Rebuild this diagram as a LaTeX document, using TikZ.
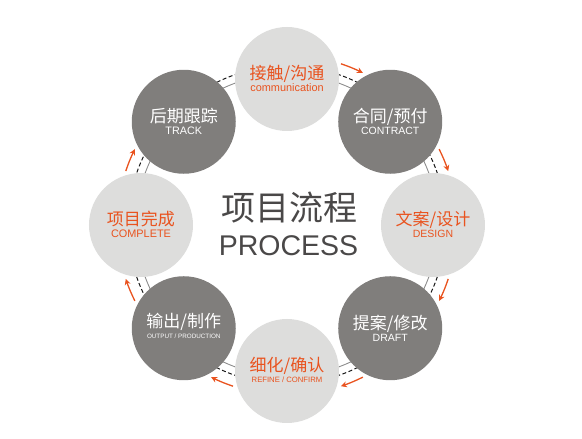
\documentclass[tikz,border=0pt]{standalone}
\usepackage{fontspec}
\setmainfont{Liberation Sans}
\newfontfamily\cjk{Noto Sans CJK SC}
\usetikzlibrary{arrows.meta}

\definecolor{procorange}{HTML}{E9531F}
\definecolor{procdark}{HTML}{807E7C}
\definecolor{proclight}{HTML}{DDDDDC}
\definecolor{proctitle}{HTML}{4A4848}

\tikzset{
  dark/.style={circle,fill=procdark,minimum size=104pt,inner sep=0pt},
  light/.style={circle,fill=proclight,minimum size=104pt,inner sep=0pt},
  flow/.style={draw=procorange,line width=1.3pt,-{Stealth[length=6pt,width=6pt]}},
}

\begin{document}
\begin{tikzpicture}[x=1pt,y=1pt]
  \useasboundingbox (-287,-214) rectangle (295,225);

  % the two rings, only seen between the circles
  \draw[black!45,line width=0.9pt] (0,0) circle[radius=151];
  \draw[black!90,line width=1pt,dash pattern=on 4pt off 2.5pt] (0,0) circle[radius=159];

  \foreach \nm/\ang/\kind/\tc/\zh/\en/\sz/\zb/\eb in {
      talk/90/light/procorange/{接触/沟通}/communication/10.9/-1/-12.5,
      deal/45/dark/white/{合同/预付}/CONTRACT/10.5/-1/-12.8,
      design/0/light/procorange/{文案/设计}/DESIGN/10.5/-1/-12.8,
      draft/-45/dark/white/{提案/修改}/DRAFT/10.5/-1/-12.8,
      refine/-90/light/procorange/{细化/确认}/{REFINE / CONFIRM}/7.7/-1/-11.8,
      output/-135/dark/white/{输出/制作}/{OUTPUT / PRODUCTION}/6.3/1.2/-10,
      done/180/light/procorange/项目完成/COMPLETE/10.9/-1/-12.8,
      track/135/dark/white/后期跟踪/TRACK/10.8/-1/-12.8}
  {
    \node[\kind] (\nm) at (\ang:146) {};
    \node[text=\tc,anchor=base,inner sep=0pt,font=\cjk\fontsize{17}{17}\selectfont]
      (\nm-zh) at ([yshift=\zb pt]\nm.center) {\zh};
    \node[text=\tc,anchor=base,inner sep=0pt,font=\fontsize{\sz}{\sz}\selectfont]
      (\nm-en) at ([yshift=\eb pt]\nm.center) {\en};
  }

  % clockwise arrows in the gaps
  \foreach \g in {67.5,22.5,-22.5,-67.5,-112.5,-157.5,157.5}
    \draw[flow] (\g+4:170) arc[start angle=\g+4,end angle=\g-4,radius=170];

  \node[text=proctitle,anchor=base,inner sep=0pt,font=\cjk\fontsize{34}{34}\selectfont]
    (title) at (2.5,4) {项目流程};
  \node[text=proctitle,anchor=base,inner sep=0pt,font=\fontsize{28.5}{28.5}\selectfont]
    (process) at (1.5,-30.7) {PROCESS};
\end{tikzpicture}
\end{document}
